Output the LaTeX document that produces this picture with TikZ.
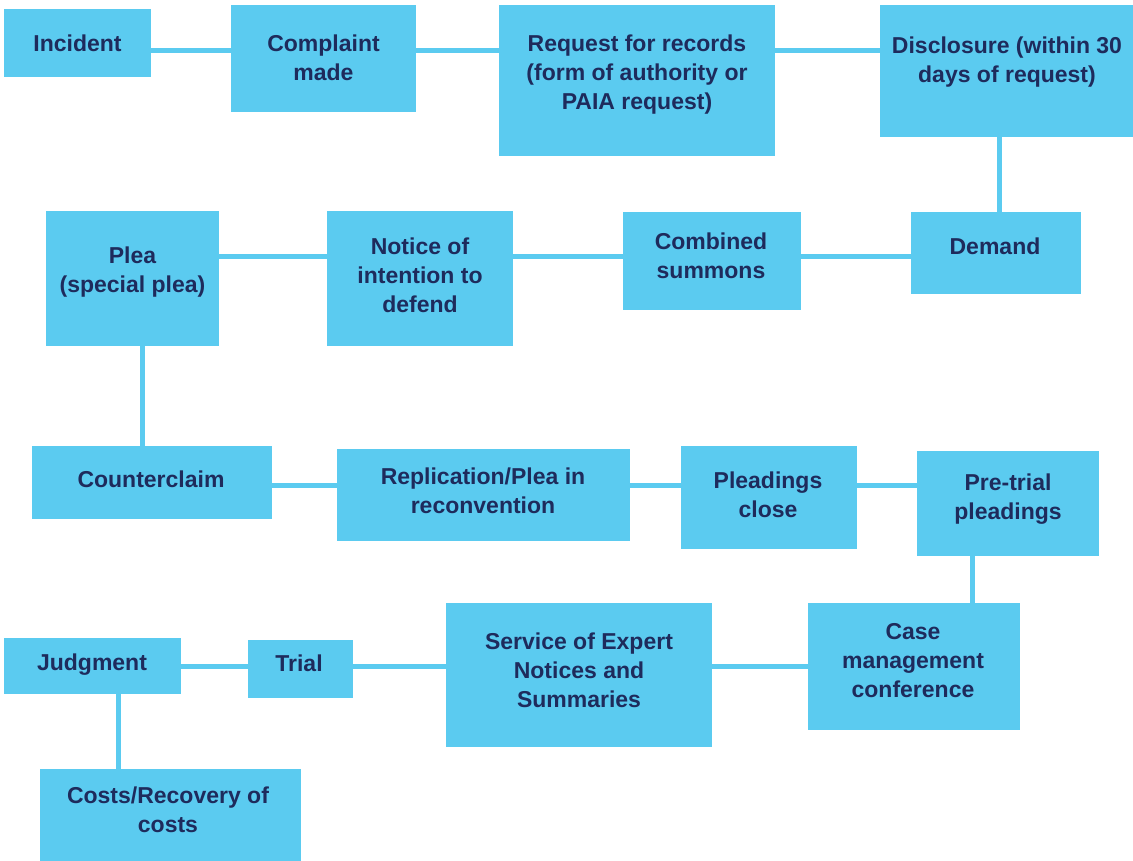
\documentclass[tikz,border=0pt]{standalone}
\usepackage{fontspec}
\setmainfont{Liberation Sans}
\usetikzlibrary{fit}
\definecolor{boxblue}{HTML}{5BCBF0}
\definecolor{navy}{HTML}{1E2B5C}
\begin{document}
\begin{tikzpicture}[x=1pt,y=-1pt,
  box/.style={fill=boxblue, draw=none, inner sep=0pt},
  % labels are placed by the baseline of their last line
  txt/.style={text=navy, align=center, anchor=base, inner sep=0pt,
    font=\bfseries\fontsize{23}{29}\selectfont},
  conn/.style={draw=boxblue, line width=5pt}]
\useasboundingbox (0,0) rectangle (1133,861);

% boxes
\node[box, fit={(4,9) (151,77)}] (incident) {};
\node[box, fit={(231,5) (416,112)}] (complaint) {};
\node[box, fit={(499,5) (775,156)}] (request) {};
\node[box, fit={(880,5) (1133,137)}] (disclosure) {};
\node[box, fit={(46,211) (219,346)}] (plea) {};
\node[box, fit={(327,211) (513,346)}] (notice) {};
\node[box, fit={(623,212) (801,310)}] (combined) {};
\node[box, fit={(911,212) (1081,294)}] (demand) {};
\node[box, fit={(32,446) (272,519)}] (counter) {};
\node[box, fit={(337,449) (630,541)}] (replication) {};
\node[box, fit={(681,446) (857,549)}] (pleadclose) {};
\node[box, fit={(917,451) (1099,556)}] (pretrial) {};
\node[box, fit={(446,603) (712,747)}] (service) {};
\node[box, fit={(808,603) (1020,730)}] (casemgmt) {};
\node[box, fit={(248,640) (353,698)}] (trial) {};
\node[box, fit={(4,638) (181,694)}] (judgment) {};
\node[box, fit={(40,769) (301,861)}] (costs) {};

% connectors
\draw[conn] (incident.east |- 0,51) -- (complaint.west |- 0,51);
\draw[conn] (complaint.east |- 0,51) -- (request.west |- 0,51);
\draw[conn] (request.east |- 0,51) -- (disclosure.west |- 0,51);
\draw[conn] (disclosure.south -| 999,0) -- (demand.north -| 999,0);
\draw[conn] (demand.west |- 0,257) -- (combined.east |- 0,257);
\draw[conn] (combined.west |- 0,257) -- (notice.east |- 0,257);
\draw[conn] (notice.west |- 0,257) -- (plea.east |- 0,257);
\draw[conn] (plea.south -| 142,0) -- (counter.north -| 142,0);
\draw[conn] (counter.east |- 0,485.5) -- (replication.west |- 0,485.5);
\draw[conn] (replication.east |- 0,485) -- (pleadclose.west |- 0,485);
\draw[conn] (pleadclose.east |- 0,485) -- (pretrial.west |- 0,485);
\draw[conn] (pretrial.south -| 972,0) -- (casemgmt.north -| 972,0);
\draw[conn] (casemgmt.west |- 0,666) -- (service.east |- 0,666);
\draw[conn] (service.west |- 0,666) -- (trial.east |- 0,666);
\draw[conn] (trial.west |- 0,666) -- (judgment.east |- 0,666);
\draw[conn] (judgment.south -| 118,0) -- (costs.north -| 118,0);

% labels
\node[txt] (incident-t) at (77.5,51.5) {Incident};
\node[txt] (complaint-t) at (323.5,80.5) {Complaint\\made};
\node[txt] (request-t) at (637,109.5) {Request for records\\(form of authority or\\PAIA request)};
\node[txt] (disclosure-t) at (1007,82.5) {Disclosure (within 30\\days of request)};
\node[txt] (plea-t) at (132.5,292.5) {Plea\\(special plea)};
\node[txt] (notice-t) at (420,312.5) {Notice of\\intention to\\defend};
\node[txt] (combined-t) at (711,278.5) {Combined\\summons};
\node[txt] (demand-t) at (995,254.5) {Demand};
\node[txt] (counter-t) at (151,487.5) {Counterclaim};
\node[txt] (replication-t) at (483,513.5) {Replication/Plea in\\reconvention};
\node[txt] (pleadclose-t) at (768,517.5) {Pleadings\\close};
\node[txt] (pretrial-t) at (1008,519.5) {Pre-trial\\pleadings};
\node[txt] (casemgmt-t) at (913,697.5) {Case\\management\\conference};
\node[txt] (service-t) at (579,707.5) {Service of Expert\\Notices and\\Summaries};
\node[txt] (trial-t) at (299,671.5) {Trial};
\node[txt] (judgment-t) at (92,670.5) {Judgment};
\node[txt] (costs-t) at (168,832.5) {Costs/Recovery of\\costs};
\end{tikzpicture}
\end{document}
